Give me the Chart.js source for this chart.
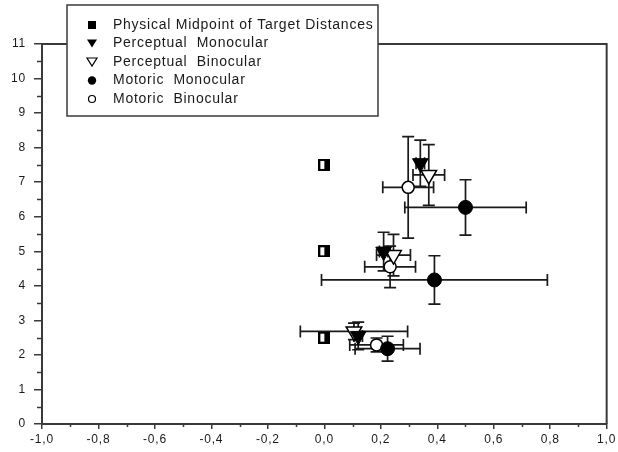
<!DOCTYPE html>
<html>
<head>
<meta charset="utf-8">
<script src="https://cdn.jsdelivr.net/npm/chart.js@4.4.0/dist/chart.umd.min.js"></script>
<style>
  html, body { margin: 0; padding: 0; background: #fff; }
  #wrap { width: 618px; height: 452px; position: relative; }
</style>
</head>
<body>
<div id="wrap"><canvas id="c" width="618" height="452"></canvas></div>
<script>
// ---- Data ----
const seriesLabels = [
  'Physical Midpoint of Target Distances',
  'Perceptual  Monocular',
  'Perceptual  Binocular',
  'Motoric  Monocular',
  'Motoric  Binocular'
];
const physX = [0, 0, 0];
const physY = [7.5, 5.0, 2.5];

const percMonoX = [0.34, 0.21, 0.12];
const percMonoY = [7.55, 4.99, 2.55];
const percMonoXErr = [0.015, 0.015, 0.015];
const percMonoYErr = [0.67, 0.56, 0.4];

const percBinoX = [0.37, 0.245, 0.105];
const percBinoY = [7.21, 4.89, 2.68];
const percBinoXErr = [0.056, 0.06, 0.19];
const percBinoYErr = [0.88, 0.6, 0.24];

const motMonoX = [0.50, 0.39, 0.224];
const motMonoY = [6.27, 4.17, 2.18];
const motMonoXErr = [0.215, 0.4, 0.115];
const motMonoYErr = [0.8, 0.7, 0.36];

const motBinoX = [0.297, 0.233, 0.185];
const motBinoY = [6.85, 4.55, 2.29];
const motBinoXErr = [0.09, 0.09, 0.095];
const motBinoYErr = [1.47, 0.6, 0.2];

const xMin = -1, xMax = 1, xStep = 0.2;
const yMin = 0, yMax = 11, yStep = 1;

// ---- helpers ----
function pts(xs, ys, xe, ye) {
  return xs.map((x, i) => ({ x: x, y: ys[i], xe: xe ? xe[i] : 0, ye: ye ? ye[i] : 0 }));
}
function halfSquare(size) {
  const c = document.createElement('canvas');
  c.width = size; c.height = size;
  const g = c.getContext('2d');
  g.fillStyle = '#fff'; g.fillRect(0, 0, size, size);
  g.fillStyle = '#000'; g.fillRect(size / 2, 0, size / 2, size);
  g.strokeStyle = '#000'; g.lineWidth = 2;
  g.strokeRect(1, 1, size - 2, size - 2);
  return c;
}
const sqImg = halfSquare(12);
const INK = '#1a1a1a';
const AXIS = '#3a3a3a';
const FONT = '"Liberation Sans", Arial, sans-serif';

function fmt(v) {
  const r = Math.round(v * 10) / 10;
  if (Math.abs(r) < 1e-9) return '0,0';
  return r.toFixed(1).replace('.', ',');
}

const spacing = {
  id: 'spacing',
  beforeDraw(chart) { try { chart.ctx.letterSpacing = '0.8px'; } catch (e) {} }
};

const errorBars = {
  id: 'errorBars',
  beforeDatasetsDraw(chart) {
    const ctx = chart.ctx, xs = chart.scales.x, ys = chart.scales.y;
    const cap = 6;
    ctx.save();
    ctx.strokeStyle = INK; ctx.lineWidth = 1.7;
    chart.data.datasets.forEach(ds => {
      ds.data.forEach(p => {
        const px = xs.getPixelForValue(p.x), py = ys.getPixelForValue(p.y);
        if (p.ye) {
          const t = ys.getPixelForValue(p.y + p.ye), b = ys.getPixelForValue(p.y - p.ye);
          ctx.beginPath();
          ctx.moveTo(px, t); ctx.lineTo(px, b);
          ctx.moveTo(px - cap, t); ctx.lineTo(px + cap, t);
          ctx.moveTo(px - cap, b); ctx.lineTo(px + cap, b);
          ctx.stroke();
        }
        if (p.xe) {
          const l = xs.getPixelForValue(p.x - p.xe), r = xs.getPixelForValue(p.x + p.xe);
          ctx.beginPath();
          ctx.moveTo(l, py); ctx.lineTo(r, py);
          ctx.moveTo(l, py - cap); ctx.lineTo(l, py + cap);
          ctx.moveTo(r, py - cap); ctx.lineTo(r, py + cap);
          ctx.stroke();
        }
      });
    });
    ctx.restore();
  }
};

const frameAndMinor = {
  id: 'frameAndMinor',
  afterDraw(chart) {
    const ctx = chart.ctx, a = chart.chartArea, xs = chart.scales.x, ys = chart.scales.y;
    ctx.save();
    ctx.strokeStyle = AXIS; ctx.lineWidth = 2;
    ctx.beginPath();
    ctx.moveTo(a.left, a.top); ctx.lineTo(a.right, a.top); ctx.lineTo(a.right, a.bottom);
    ctx.stroke();
    ctx.lineWidth = 1.5;
    ctx.beginPath();
    for (let v = xMin + xStep / 2; v < xMax; v += xStep) {
      const px = Math.round(xs.getPixelForValue(v)) + 0.5;
      ctx.moveTo(px, a.bottom); ctx.lineTo(px, a.bottom + 3);
    }
    for (let v = yMin + yStep / 2; v < yMax; v += yStep) {
      const py = Math.round(ys.getPixelForValue(v)) + 0.5;
      ctx.moveTo(a.left, py); ctx.lineTo(a.left - 5, py);
    }
    ctx.stroke();
    ctx.restore();
    drawLegend(chart);
  }
};

function drawLegend(chart) {
  const ctx = chart.ctx;
  const bx = 67, by = 5, bw = 311, bh = 111;
  ctx.save();
  ctx.fillStyle = '#fff';
  ctx.fillRect(bx, by, bw, bh);
  ctx.strokeStyle = AXIS; ctx.lineWidth = 1.5;
  ctx.strokeRect(bx, by, bw, bh);
  const rowY = [25, 43.5, 62, 80.5, 99];
  const mx = 92, tx = 113;
  ctx.font = '14px ' + FONT;
  try { ctx.letterSpacing = '0.75px'; } catch (e) {}
  ctx.textBaseline = 'middle';
  ctx.fillStyle = INK;
  seriesLabels.forEach((lab, i) => {
    const y = rowY[i];
    ctx.fillStyle = '#000'; ctx.strokeStyle = '#000'; ctx.lineWidth = 1.2;
    ctx.beginPath();
    if (i === 0) {
      ctx.fillRect(mx - 4, y - 4, 8, 8);
    } else if (i === 1 || i === 2) {
      ctx.moveTo(mx - 5, y - 4); ctx.lineTo(mx + 5, y - 4); ctx.lineTo(mx, y + 4); ctx.closePath();
      if (i === 1) ctx.fill(); else { ctx.fillStyle = '#fff'; ctx.fill(); ctx.stroke(); }
    } else if (i === 3) {
      ctx.arc(mx, y, 4.2, 0, Math.PI * 2); ctx.fill();
    } else {
      ctx.arc(mx, y, 3.5, 0, Math.PI * 2); ctx.fillStyle = '#fff'; ctx.fill(); ctx.stroke();
    }
    ctx.fillStyle = INK;
    ctx.fillText(lab, tx, y);
  });
  ctx.restore();
}

const chart = new Chart(document.getElementById('c'), {
  type: 'scatter',
  data: {
    datasets: [
      { label: seriesLabels[0], data: pts(physX, physY), pointStyle: sqImg,
        pointRadius: 6, pointHoverRadius: 6 },
      { label: seriesLabels[1], data: pts(percMonoX, percMonoY, percMonoXErr, percMonoYErr),
        pointStyle: 'triangle', pointRotation: 180, pointRadius: 9,
        backgroundColor: '#000', borderColor: '#000', borderWidth: 1 },
      { label: seriesLabels[2], data: pts(percBinoX, percBinoY, percBinoXErr, percBinoYErr),
        pointStyle: 'triangle', pointRotation: 180, pointRadius: 9,
        backgroundColor: '#fff', borderColor: '#000', borderWidth: 1.5 },
      { label: seriesLabels[3], data: pts(motMonoX, motMonoY, motMonoXErr, motMonoYErr),
        pointStyle: 'circle', pointRadius: 7,
        backgroundColor: '#000', borderColor: '#000', borderWidth: 1 },
      { label: seriesLabels[4], data: pts(motBinoX, motBinoY, motBinoXErr, motBinoYErr),
        pointStyle: 'circle', pointRadius: 6,
        backgroundColor: '#fff', borderColor: '#000', borderWidth: 1.5 }
    ]
  },
  options: {
    responsive: false,
    animation: false,
    events: [],
    layout: { padding: { top: 44, right: 10, left: 0, bottom: 0 } },
    plugins: { legend: { display: false }, tooltip: { enabled: false } },
    scales: {
      x: {
        type: 'linear', min: xMin, max: xMax,
        afterFit(s) { s.height = 28; },
        ticks: { stepSize: xStep, color: INK, font: { family: FONT, size: 12 }, padding: 3,
                 maxRotation: 0, autoSkip: false, callback: v => fmt(v) },
        grid: { drawOnChartArea: false, drawTicks: true, tickLength: 5, color: AXIS, lineWidth: 1.5 },
        border: { display: true, color: AXIS, width: 2 }
      },
      y: {
        type: 'linear', min: yMin, max: yMax,
        afterFit(s) { s.width = 42; },
        ticks: { stepSize: yStep, color: INK, font: { family: FONT, size: 12 }, padding: 8,
                 autoSkip: false, callback: v => String(Math.round(v)) },
        grid: { drawOnChartArea: false, drawTicks: true, tickLength: 8, color: AXIS, lineWidth: 1.5 },
        border: { display: true, color: AXIS, width: 2 }
      }
    }
  },
  plugins: [spacing, errorBars, frameAndMinor]
});
</script>
</body>
</html>
